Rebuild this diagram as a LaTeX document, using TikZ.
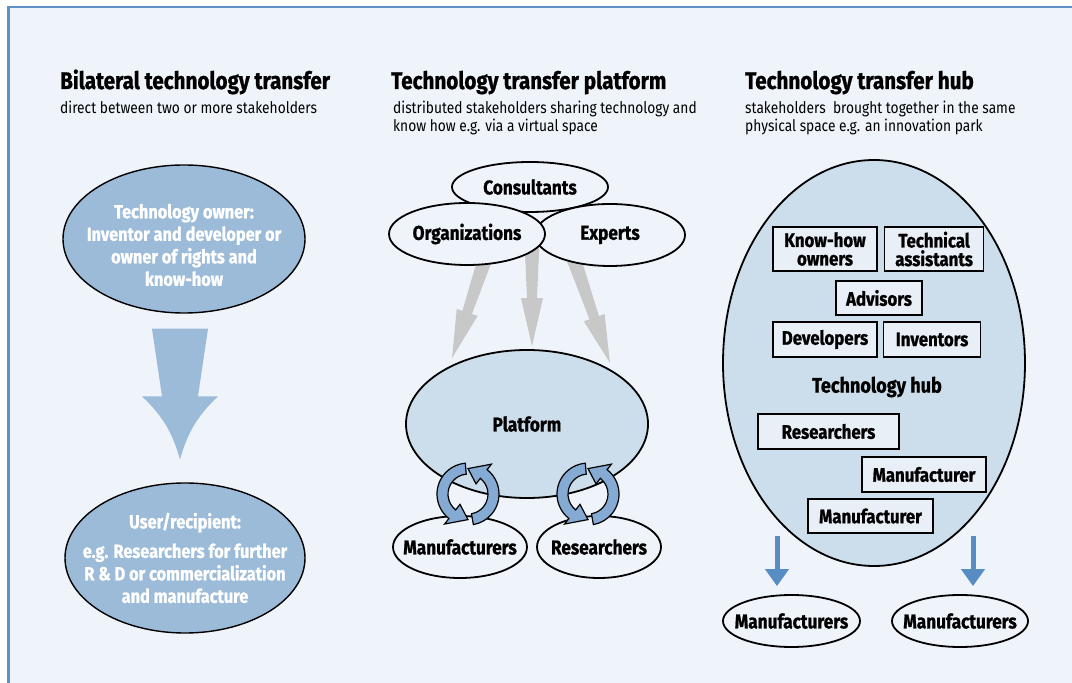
\documentclass[tikz,border=0pt]{standalone}
\usepackage{fontspec}
\setmainfont{Fira Sans}[FakeStretch=0.86, BoldFeatures={FakeBold=1}]
\usetikzlibrary{shapes.geometric, calc, arrows.meta, positioning}

\definecolor{bgblue}{RGB}{239,244,251}
\definecolor{frameblue}{RGB}{95,145,200}
\definecolor{darkfill}{RGB}{155,187,217}
\definecolor{lightfill}{RGB}{204,221,236}
\definecolor{boxfill}{RGB}{232,239,247}
\definecolor{cyclefill}{RGB}{133,170,211}
\definecolor{arrowgray}{RGB}{200,200,200}
\definecolor{arrowblue}{RGB}{88,141,196}

\tikzset{
  bubble/.style 2 args={ellipse, draw, line width=1.8pt, fill=bgblue, inner sep=0pt,
    minimum width=#1pt, minimum height=#2pt},
  darkbubble/.style 2 args={ellipse, draw, line width=1.4pt, fill=darkfill, inner sep=0pt,
    minimum width=#1pt, minimum height=#2pt},
  whitetext/.style={text=white, align=center, font=\bfseries\fontsize{19}{22.5}\selectfont},
  hubbox/.style 2 args={draw, line width=1.6pt, fill=boxfill, inner sep=0pt, align=center,
    minimum width=#1pt, minimum height=#2pt, font=\bfseries\fontsize{19.5}{18.5}\selectfont},
  heading/.style={anchor=base west, inner sep=0pt, font=\bfseries\fontsize{24}{26}\selectfont},
  subheading/.style={anchor=north west, inner sep=0pt, align=left, font=\fontsize{16}{18}\selectfont},
  every label/.style={inner sep=0pt, font=\bfseries\fontsize{20}{21}\selectfont},
  bluearrow/.style={draw=arrowblue, line width=5pt, -{Triangle[width=23pt, length=17pt]}},
}

% tapered grey arrow: from, to
\newcommand{\grayarrow}[2]{%
  \fill[arrowgray] ($(#1)!7.5pt!90:(#2)$) -- ($(#2)!48pt!(#1)!5pt!90:(#2)$)
    -- ($(#2)!48pt!(#1)!11pt!90:(#2)$) -- (#2)
    -- ($(#2)!48pt!(#1)!11pt!-90:(#2)$) -- ($(#2)!48pt!(#1)!5pt!-90:(#2)$)
    -- ($(#1)!7.5pt!-90:(#2)$) -- cycle;}

% curved exchange arrow: centre, start angle, end angle
\newcommand{\cyclearrow}[3]{%
  \draw[line width=1.2pt, fill=cyclefill] ($(#1)+(#2:20pt)$) arc[start angle=#2, end angle=#3, radius=20pt]
    -- ($(#1)+(#3:13pt)$) -- ($(#1)+({#3+38}:25.5pt)$) -- ($(#1)+(#3:38pt)$)
    -- ($(#1)+(#3:31pt)$) arc[start angle=#3, end angle=#2, radius=31pt] -- cycle;}

\begin{document}
\begin{tikzpicture}[x=1pt, y=1pt, >=Latex]
\useasboundingbox (0,0) rectangle (1072,683);
\fill[bgblue] (8.5,0) rectangle (1072,676);
\draw[frameblue, line width=2.5pt] (8.5,0) -- (8.5,676) -- (1072,676);

% headings
\node[heading] (bil) at (60,594) {Bilateral technology transfer};
\node[subheading] (bilsub) at (60,582) {direct between two or more stakeholders};
\node[heading] (plattitle) at (391,594) {Technology transfer platform};
\node[subheading] (platsub) at (393,582) {distributed stakeholders sharing technology and\\know how e.g. via a virtual space};
\node[heading] (hubtitle) at (745,594) {Technology transfer hub};
\node[subheading] (hubsub) at (745,582) {stakeholders\ \ brought together in the same\\physical space e.g. an innovation park};

% bilateral
\node[darkbubble={242}{148}, label={[whitetext, yshift=-6pt]center:{Technology owner:\\Inventor and developer or\\owner of rights and\\know-how}}] (owner) at (184,444) {};
\node[darkbubble={240}{150}, label={[whitetext]center:{User/recipient:\\[7pt]e.g. Researchers for further\\R \& D or commercialization\\and manufacture}}] (user) at (185,125) {};

\coordinate (shafttop) at ($(owner.south)+(-4,-15)$);
\coordinate (arrowtip) at ($(user.north)+(-5,23)$);
\fill[darkfill] ($(shafttop)+(-28,0)$) -- ($(shafttop)+(28,0)$) -- ($(arrowtip)+(18,63)$)
  -- ($(arrowtip)+(38,63)$) to[bend right=15] (arrowtip) to[bend right=15] ($(arrowtip)+(-38,63)$)
  -- ($(arrowtip)+(-18,63)$) -- cycle;

% platform
\node[bubble={242}{148}, fill=lightfill, label=center:Platform] (plat) at (527,259) {};

\coordinate (g1) at (487,430);
\coordinate (g2) at (532,442);
\coordinate (g3) at (571,432);
\coordinate (t1) at ($(plat.center)+(-75,66)$);
\coordinate (t2) at ($(plat.north)+(5,3)$);
\coordinate (t3) at ($(plat.center)+(83,61)$);
\grayarrow{g1}{t1}
\grayarrow{g2}{t2}
\grayarrow{g3}{t3}

\node[bubble={156}{50}, label=center:Consultants] (cons) at (530,496) {};
\node[bubble={150}{62}, label=center:Experts] (exp) at (610,448) {};
\node[bubble={156}{62}, label=center:Organizations] (org) at (467,449) {};

\node[bubble={134}{62}, label=center:Manufacturers] (manu) at (460,136) {};
\node[bubble={124}{62}, label=center:Researchers] (resr) at (599,136) {};

\coordinate (cycA) at ($(manu.north)+(8,21)$);
\coordinate (cycB) at ($(resr.north)+(-11,21)$);
\cyclearrow{cycA}{95}{232}
\cyclearrow{cycA}{280}{412}
\cyclearrow{cycB}{95}{232}
\cyclearrow{cycB}{280}{412}

% hub
\node[bubble={302}{406}, fill=lightfill] (hub) at (874,320) {};
\node[font=\bfseries\fontsize{21}{22}\selectfont] (hubname) at (877,296) {Technology hub};

\node[hubbox={104}{44}] (knowhow) at (825,434) {Know-how\\owners};
\node[hubbox={99}{44}, right=6pt of knowhow] (techass) {Technical\\assistants};
\node[hubbox={86}{34}] (advisors) at (879,385) {Advisors};
\node[hubbox={104}{35}] (devel) at (825,343.5) {Developers};
\node[hubbox={97}{35}, right=5pt of devel] (invent) {Inventors};
\node[hubbox={141}{35}] (hubres) at (828.5,251.5) {Researchers};
\node[hubbox={124}{35}] (hubmanA) at (924,208.5) {Manufacturer};
\node[hubbox={125}{34}] (hubmanB) at (870.5,167) {Manufacturer};

\node[bubble={137}{52}, label=center:Manufacturers] (mfl) at (791.5,62) {};
\node[bubble={136}{52}, label=center:Manufacturers] (mfr) at (960,62) {};

\draw[bluearrow] ($(mfl.north)+(-14.5,58)$) -- ($(mfl.north)+(-14.5,8)$);
\draw[bluearrow] ($(mfr.north)+(13,58)$) -- ($(mfr.north)+(13,8)$);
\end{tikzpicture}
\end{document}
